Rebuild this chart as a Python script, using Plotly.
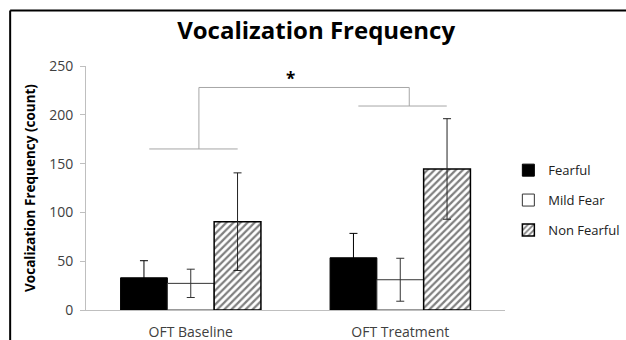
import plotly.graph_objects as go

categories = ["OFT Baseline", "OFT Treatment"]
series_names = ["Fearful", "Mild Fear", "Non Fearful"]
fearful = [33, 53.5]
fearful_err = [17.5, 25]
mild = [27.3, 31]
mild_err = [14.5, 22]
nonfearful = [90.5, 144.5]
nonfearful_err = [50, 51.5]
yticks = [0, 50, 100, 150, 200, 250]
# significance bracket levels (value units)
bracket_left = 165
bracket_top = 228
bracket_right = 209

FONT = "Open Sans"
AX = "#bfbfbf"

fig = go.Figure()
fig.add_trace(go.Bar(
    x=categories, y=fearful, name=series_names[0],
    marker=dict(color="black", line=dict(color="black", width=1)),
    error_y=dict(type="data", array=fearful_err, color="black", thickness=1, width=4),
    legendgroup="a",
))
fig.add_trace(go.Bar(
    x=categories, y=mild, name=series_names[1],
    marker=dict(color="white", line=dict(color="#333", width=1)),
    error_y=dict(type="data", array=mild_err, color="#333", thickness=1, width=4),
    legendgroup="b",
))
fig.add_trace(go.Bar(
    x=categories, y=nonfearful, name=series_names[2],
    marker=dict(color="white", line=dict(color="black", width=1.5),
                pattern=dict(shape="/", fgcolor="black", bgcolor="white", size=5, solidity=0.45)),
    error_y=dict(type="data", array=nonfearful_err, color="#222", thickness=1, width=4),
    legendgroup="c",
))

shapes = [
    # outer frame (top and left visible)
    dict(type="line", xref="paper", yref="paper", x0=-0.181, x1=1.4, y0=1.227, y1=1.227,
         line=dict(color="black", width=2)),
    dict(type="line", xref="paper", yref="paper", x0=-0.181, x1=-0.181, y0=1.227, y1=-0.2,
         line=dict(color="black", width=2)),
]
br = dict(color="#a6a6a6", width=1)
shapes += [
    dict(type="line", xref="x", yref="y", x0=-0.198, x1=0.224, y0=bracket_left, y1=bracket_left, line=br),
    dict(type="line", xref="x", yref="y", x0=0.039, x1=0.039, y0=bracket_left, y1=bracket_top, line=br),
    dict(type="line", xref="x", yref="y", x0=0.039, x1=1.043, y0=bracket_top, y1=bracket_top, line=br),
    dict(type="line", xref="x", yref="y", x0=1.043, x1=1.043, y0=bracket_top, y1=bracket_right, line=br),
    dict(type="line", xref="x", yref="y", x0=0.8, x1=1.222, y0=bracket_right, y1=bracket_right, line=br),
]

fig.update_layout(
    width=626, height=340,
    margin=dict(l=86, r=121, t=66, b=30, autoexpand=False),
    paper_bgcolor="white", plot_bgcolor="white",
    barmode="group", bargap=0.33, bargroupgap=0,
    font=dict(family=FONT, size=13, color="#404040"),
    title=dict(text="<b>Vocalization Frequency</b>", x=0.505, xref="container",
               y=1 - 31/340, yanchor="middle", xanchor="center",
               font=dict(family=FONT, size=24, color="black")),
    showlegend=True,
    legend=dict(x=1.008, xanchor="left", y=0.45, yanchor="middle", tracegroupgap=10,
                font=dict(family=FONT, size=13, color="#202020"), bgcolor="rgba(0,0,0,0)"),
    shapes=shapes,
    annotations=[dict(x=0.478, y=237.5, xref="x", yref="y", text="<b>*</b>", showarrow=False,
                      font=dict(family=FONT, size=17, color="black"))],
    xaxis=dict(showline=True, linecolor=AX, linewidth=1, ticks="", showgrid=False, automargin=False,
               tickfont=dict(family=FONT, size=14, color="#404040"), ticklabelstandoff=9),
    yaxis=dict(range=[0, 250], tickvals=yticks, showline=True, linecolor=AX, linewidth=1,
               ticks="outside", ticklen=5, tickcolor=AX, showgrid=False, zeroline=False, automargin=False,
               tickfont=dict(family=FONT, size=14, color="#404040"), ticklabelstandoff=4,
               title=dict(text="<b>Vocalization Frequency (count)</b>", standoff=10,
                          font=dict(family=FONT, size=13.5, color="black"))),
)

fig.write_html("out.html", config={"displayModeBar": False})
